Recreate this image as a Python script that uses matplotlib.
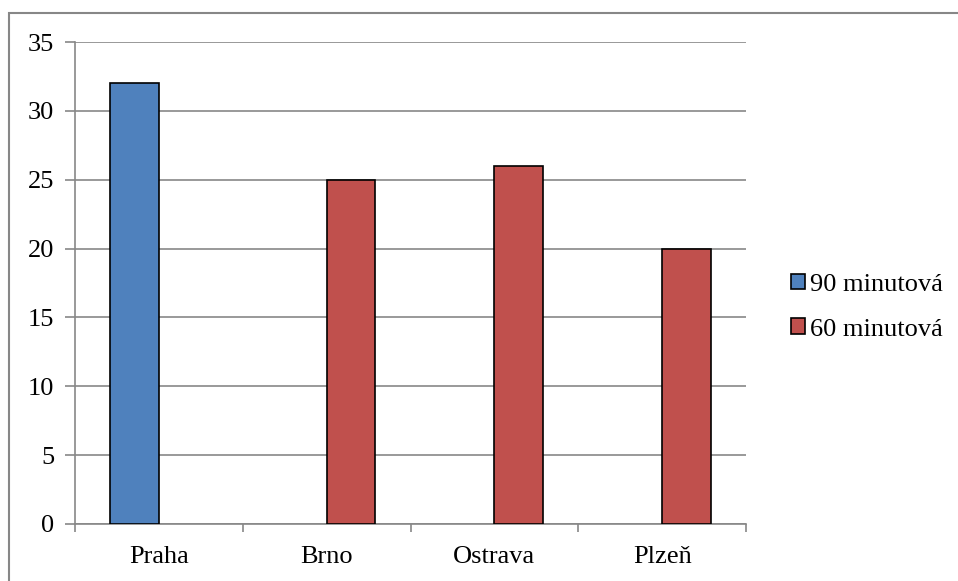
import numpy as np
import matplotlib.pyplot as plt
from matplotlib.patches import Patch, Rectangle

plt.rcParams['font.family'] = ['Liberation Serif', 'DejaVu Serif']

cities = ['Praha', 'Brno', 'Ostrava', 'Plzeň']
series_names = ['90 minutová', '60 minutová']
vals90 = [32, 0, 0, 0]
vals60 = [0, 25, 26, 20]
colors = ['#4F81BD', '#C0504D']

W, H = 958, 581
fig = plt.figure(figsize=(W / 100, H / 100), dpi=100)
ax = fig.add_axes([75 / W, 1 - 524 / H, (746 - 75) / W, (524 - 42) / H])

x = np.arange(len(cities))
bw = 0.29
# zero values are not drawn at all (no flat outline on the axis)
for vals, off, c in [(vals90, -bw / 2, colors[0]), (vals60, bw / 2, colors[1])]:
    v = np.array(vals, dtype=float)
    m = v > 0
    ax.bar(x[m] + off, v[m], bw, color=c, edgecolor='black', linewidth=1.2, zorder=3)

ax.set_xlim(-0.5, len(cities) - 0.5)
ax.set_ylim(0, 35)
ax.set_yticks(np.arange(0, 36, 5))
ax.yaxis.grid(True, color='#878787', linewidth=1.2, zorder=0)
ax.set_axisbelow(True)

ax.set_xticks(np.arange(-0.5, len(cities), 1))
ax.set_xticklabels([])
ax.set_xticks(x, minor=True)
ax.set_xticklabels(cities, minor=True, fontsize=19)
ax.tick_params(axis='x', which='minor', length=0, pad=16)
ax.tick_params(axis='x', which='major', length=6, color='#878787', width=1.2)
ax.tick_params(axis='y', length=7, color='#878787', width=1.2, labelsize=19, pad=8)

for s in ['top', 'right']:
    ax.spines[s].set_visible(False)
for s in ['left', 'bottom']:
    ax.spines[s].set_color('#878787')
    ax.spines[s].set_linewidth(1.2)

handles = [Patch(facecolor=c, edgecolor='black', linewidth=1.2) for c in colors]
fig.legend(handles, series_names, loc='center left', bbox_to_anchor=(780 / W, 1 - 307 / H),
           frameon=False, fontsize=19, handlelength=0.55, handleheight=0.55,
           handletextpad=0.2, labelspacing=0.85, borderaxespad=0)

# outer chart frame (cropped on right and bottom)
fig.patches.append(Rectangle((9 / W, -0.1), 1.2, 1 - 13 / H + 0.1, transform=fig.transFigure,
                             fill=False, edgecolor='#878787', linewidth=1.5))

fig.savefig('out.png', dpi=100)
